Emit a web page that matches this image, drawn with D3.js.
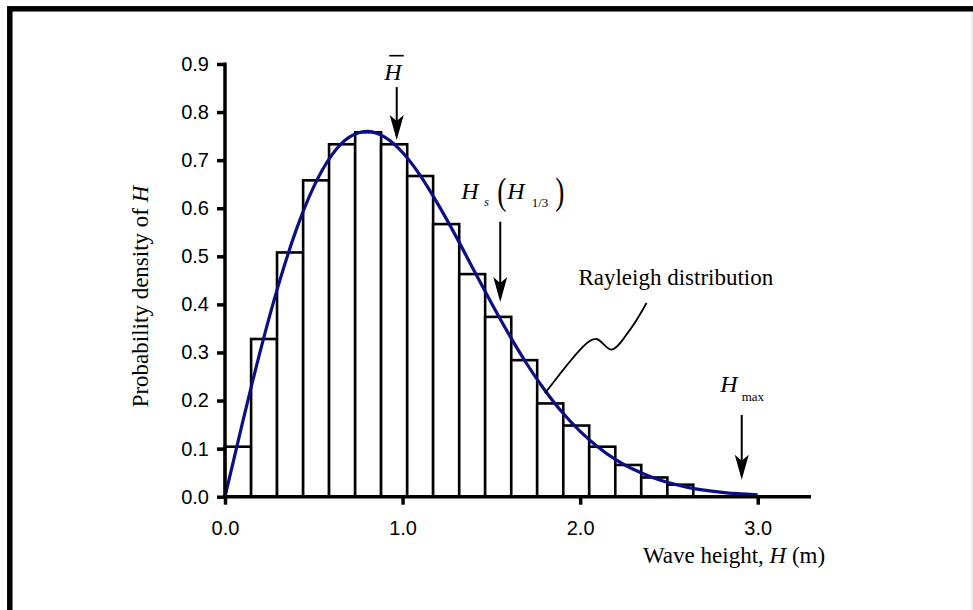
<!DOCTYPE html>
<html lang="en">

<head>
    <meta charset="UTF-8">
    <title>Wave height distribution</title>
    <script src="https://d3js.org/d3.v7.min.js"></script>
    <style>
        body { margin: 0; background: #fff; }
        .tick text { font-family: "Liberation Sans", Arial, sans-serif; font-size: 20px; fill: #000; }
        .serif { font-family: "Liberation Serif", "Times New Roman", serif; fill: #000; }
    </style>
</head>

<body>
    <div id="chart"></div>
    <script>
        // histogram bin edges (m) and bar heights
        const binEdges = [0, 0.147, 0.293, 0.44, 0.586, 0.733, 0.879, 1.026, 1.172, 1.319, 1.465,
            1.612, 1.758, 1.905, 2.051, 2.198, 2.344, 2.491, 2.637];
        const barDensity = [0.104, 0.328, 0.508, 0.658, 0.733, 0.758, 0.733, 0.667, 0.567, 0.463,
            0.374, 0.284, 0.194, 0.148, 0.104, 0.066, 0.040, 0.025];

        // Rayleigh curve
        const curveH = [0, 0.1, 0.2, 0.3, 0.4, 0.5, 0.6, 0.7, 0.8, 0.9, 1.0, 1.1, 1.2, 1.3, 1.4, 1.5,
            1.6, 1.7, 1.8, 1.9, 2.0, 2.2, 2.4, 2.6, 2.8, 3.0];
        const curveP = [0, 0.156, 0.305, 0.439, 0.554, 0.645, 0.710, 0.748, 0.760, 0.748, 0.716, 0.668,
            0.608, 0.542, 0.472, 0.403, 0.337, 0.276, 0.222, 0.175, 0.136, 0.077, 0.041, 0.020, 0.009, 0.004];

        const xTicks = [0, 1, 2, 3];
        const yTicks = [0, 0.1, 0.2, 0.3, 0.4, 0.5, 0.6, 0.7, 0.8, 0.9];

        // arrows: [H, from density, to density]
        const meanArrow = [0.967, 0.852, 0.742];
        const sigArrow = [1.55, 0.572, 0.405];
        const maxArrow = [2.91, 0.170, 0.035];

        // leader line from the label down to the curve
        const leaderH = [2.374, 2.28, 2.177, 2.093, 2.046, 1.802];
        const leaderP = [0.403, 0.347, 0.306, 0.328, 0.322, 0.215];

        const W = 973, Hgt = 610;
        const x = d3.scaleLinear().domain([0, 3.3]).range([225, 811]);
        const y = d3.scaleLinear().domain([0, 0.9]).range([496.7, 64]);

        const svg = d3.select("#chart").append("svg")
            .attr("width", W).attr("height", Hgt)
            .style("display", "block");

        svg.append("rect").attr("width", W).attr("height", Hgt).attr("fill", "#fff");

        // frame
        svg.append("rect")
            .attr("x", 9.8).attr("y", 8.8)
            .attr("width", 1200).attr("height", 1200)
            .attr("fill", "none").attr("stroke", "#000").attr("stroke-width", 5.5);
        svg.append("line")
            .attr("x1", 972).attr("x2", 972).attr("y1", 12).attr("y2", Hgt)
            .attr("stroke", "#ddd").attr("stroke-width", 1);

        // bars
        const bars = barDensity.map((d, i) => ({ x0: binEdges[i], x1: binEdges[i + 1], p: d }));
        svg.append("g").selectAll("rect")
            .data(bars)
            .join("rect")
            .attr("x", d => x(d.x0))
            .attr("y", d => y(d.p))
            .attr("width", d => x(d.x1) - x(d.x0))
            .attr("height", d => y(0) - y(d.p))
            .attr("fill", "#fff")
            .attr("stroke", "#000")
            .attr("stroke-width", 2.6);

        // rayleigh curve
        const curve = curveH.map((h, i) => ({ h: h, p: curveP[i] }));
        svg.append("path")
            .datum(curve)
            .attr("fill", "none")
            .attr("stroke", "#0b0f85")
            .attr("stroke-width", 3.2)
            .attr("d", d3.line().x(d => x(d.h)).y(d => y(d.p)).curve(d3.curveMonotoneX));

        // axes
        const yAxis = svg.append("g")
            .attr("transform", "translate(" + x(0) + ",0)")
            .call(d3.axisLeft(y).tickValues(yTicks).tickFormat(d3.format(".1f")).tickSize(8).tickPadding(8));
        const xAxis = svg.append("g")
            .attr("transform", "translate(0," + y(0) + ")")
            .call(d3.axisBottom(x).tickValues(xTicks).tickFormat(d3.format(".1f")).tickSize(8).tickPadding(16));
        [xAxis, yAxis].forEach(a => {
            a.select(".domain").remove();
            a.selectAll(".tick line").attr("stroke", "#000").attr("stroke-width", 3.5);
        });
        svg.append("line")
            .attr("x1", x(0)).attr("x2", x(0)).attr("y1", y(0.9) - 1.5).attr("y2", y(0) + 1.7)
            .attr("stroke", "#000").attr("stroke-width", 3.5);
        svg.append("line")
            .attr("x1", x(0) - 1.7).attr("x2", x(3.3)).attr("y1", y(0)).attr("y2", y(0))
            .attr("stroke", "#000").attr("stroke-width", 3.5);

        // axis titles
        const xt = svg.append("text").attr("class", "serif")
            .attr("x", 643).attr("y", 563).attr("font-size", 23);
        xt.append("tspan").text("Wave height, ");
        xt.append("tspan").attr("font-style", "italic").text("H");
        xt.append("tspan").text(" (m)");

        const yt = svg.append("text").attr("class", "serif")
            .attr("transform", "translate(148,296.5) rotate(-90)")
            .attr("text-anchor", "middle").attr("font-size", 23);
        yt.append("tspan").text("Probability density of ");
        yt.append("tspan").attr("font-style", "italic").text("H");

        // arrows
        [meanArrow, sigArrow, maxArrow].forEach(a => {
            svg.append("line")
                .attr("x1", x(a[0])).attr("x2", x(a[0]))
                .attr("y1", y(a[1])).attr("y2", y(a[2]) - 4)
                .attr("stroke", "#000").attr("stroke-width", 2);
            svg.append("path")
                .attr("d", "M0,0 L-7,-25 L0,-19 L7,-25 Z")
                .attr("transform", "translate(" + x(a[0]) + "," + y(a[2]) + ")")
                .attr("fill", "#000");
        });

        // H bar label
        const mx = x(meanArrow[0]);
        svg.append("text").attr("class", "serif")
            .attr("x", mx - 12.5).attr("y", 79.5)
            .attr("font-size", 24).attr("font-style", "italic").text("H");
        svg.append("line")
            .attr("x1", mx - 7.5).attr("x2", mx + 7).attr("y1", 55.7).attr("y2", 55.7)
            .attr("stroke", "#000").attr("stroke-width", 1.6);

        // Hs (H1/3) label
        const sx = x(sigArrow[0]);
        const lab = svg.append("g").attr("class", "serif");
        lab.append("text").attr("x", sx - 39).attr("y", 198.5)
            .attr("font-size", 24).attr("font-style", "italic").text("H");
        lab.append("text").attr("x", sx - 16).attr("y", 206)
            .attr("font-size", 12).attr("font-style", "italic").text("s");
        lab.append("text")
            .attr("transform", "translate(" + (sx - 3) + ",204) scale(0.72,1)")
            .attr("font-size", 38).text("(");
        lab.append("text").attr("x", sx + 7).attr("y", 198.5)
            .attr("font-size", 24).attr("font-style", "italic").text("H");
        lab.append("text").attr("x", sx + 31.5).attr("y", 206.5)
            .attr("font-size", 13).text("1/3");
        lab.append("text")
            .attr("transform", "translate(" + (sx + 55) + ",204) scale(0.72,1)")
            .attr("font-size", 38).text(")");

        // Hmax label
        const hx = x(maxArrow[0]);
        svg.append("text").attr("class", "serif")
            .attr("x", hx - 21.5).attr("y", 391.7)
            .attr("font-size", 24).attr("font-style", "italic").text("H");
        svg.append("text").attr("class", "serif")
            .attr("x", hx).attr("y", 400.7)
            .attr("font-size", 13).text("max");

        // Rayleigh label + leader
        svg.append("text").attr("class", "serif")
            .attr("x", x(1.99)).attr("y", y(0.44))
            .attr("font-size", 23).text("Rayleigh distribution");

        const leader = leaderH.map((h, i) => [x(h), y(leaderP[i])]);
        svg.append("path")
            .attr("d", d3.line().curve(d3.curveCatmullRom)(leader))
            .attr("fill", "none").attr("stroke", "#000").attr("stroke-width", 1.8);
    </script>
</body>

</html>
